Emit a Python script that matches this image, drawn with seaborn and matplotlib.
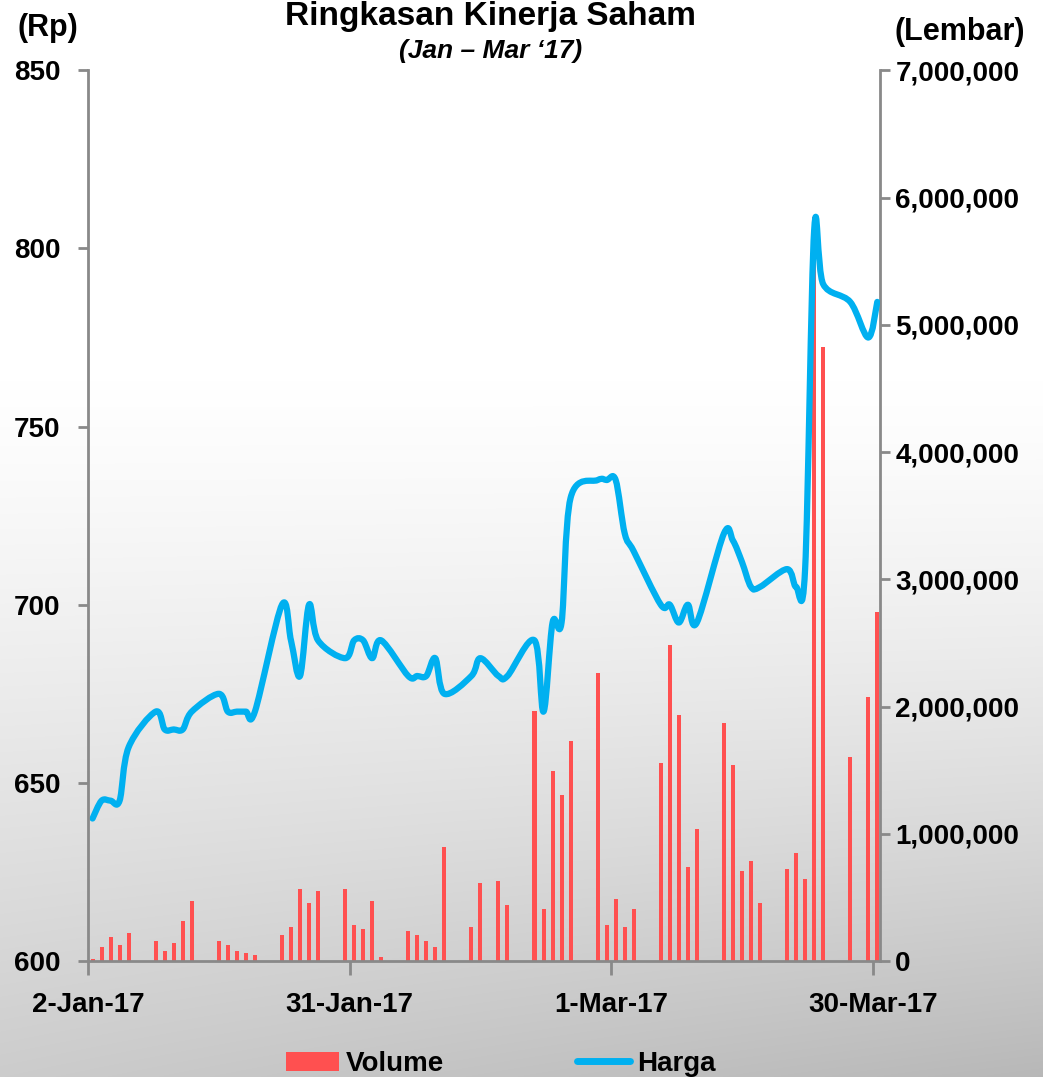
import matplotlib
matplotlib.use('Agg')
import matplotlib.pyplot as plt
import matplotlib.dates as mdates
from matplotlib.path import Path
from matplotlib.patches import PathPatch, Patch
from matplotlib.lines import Line2D
from matplotlib.ticker import FuncFormatter
import numpy as np
import pandas as pd
import seaborn as sns

sns.set_style('ticks')
plt.rcParams['font.family'] = ['Liberation Sans', 'DejaVu Sans']
plt.rcParams['font.weight'] = 'bold'
plt.rcParams['text.color'] = 'black'
plt.rcParams['xtick.labelcolor'] = 'black'
plt.rcParams['ytick.labelcolor'] = 'black'

# hari bursa Jan - Mar 2017
tanggal = [
    '2017-01-02', '2017-01-03', '2017-01-04', '2017-01-05', '2017-01-06',
    '2017-01-09', '2017-01-10', '2017-01-11', '2017-01-12', '2017-01-13',
    '2017-01-16', '2017-01-17', '2017-01-18', '2017-01-19', '2017-01-20',
    '2017-01-23', '2017-01-24', '2017-01-25', '2017-01-26', '2017-01-27',
    '2017-01-30', '2017-01-31', '2017-02-01', '2017-02-02', '2017-02-03',
    '2017-02-06', '2017-02-07', '2017-02-08', '2017-02-09', '2017-02-10',
    '2017-02-13', '2017-02-14', '2017-02-16', '2017-02-17',
    '2017-02-20', '2017-02-21', '2017-02-22', '2017-02-23', '2017-02-24',
    '2017-02-27', '2017-02-28', '2017-03-01', '2017-03-02', '2017-03-03',
    '2017-03-06', '2017-03-07', '2017-03-08', '2017-03-09', '2017-03-10',
    '2017-03-13', '2017-03-14', '2017-03-15', '2017-03-16', '2017-03-17',
    '2017-03-20', '2017-03-21', '2017-03-22', '2017-03-23', '2017-03-24',
    '2017-03-27', '2017-03-29', '2017-03-30',
]
harga = [
    640, 645, 645, 645, 660,
    670, 665, 665, 665, 670,
    675, 670, 670, 670, 670,
    700, 690, 680, 700, 690,
    685, 690, 690, 685, 690,
    680, 680, 680, 685, 675,
    680, 685, 680, 680,
    690, 670, 695, 695, 730,
    735, 735, 735, 720, 715,
    700, 700, 695, 700, 695,
    720, 718, 712, 705, 705,
    710, 705, 710, 805, 790,
    785, 775, 785,
]
volume = [
    18000, 110000, 189000, 126000, 220000,
    157000, 79000, 141000, 314000, 471000,
    157000, 126000, 79000, 63000, 47000,
    204000, 267000, 566000, 456000, 550000,
    566000, 283000, 251000, 471000, 31000,
    236000, 204000, 157000, 110000, 896000,
    267000, 613000, 628000, 440000,
    1964000, 408000, 1492000, 1304000, 1728000,
    2262000, 283000, 487000, 267000, 408000,
    1555000, 2482000, 1932000, 738000, 1037000,
    1870000, 1540000, 707000, 786000, 456000,
    723000, 848000, 644000, 5845000, 4825000,
    1602000, 2074000, 2742000,
]
x_tick_dates = ['2017-01-02', '2017-01-31', '2017-03-01', '2017-03-30']
x_tick_labels = ['2-Jan-17', '31-Jan-17', '1-Mar-17', '30-Mar-17']
harga_ticks = [600, 650, 700, 750, 800, 850]
volume_ticks = [0, 1000000, 2000000, 3000000, 4000000, 5000000, 6000000, 7000000]

MERAH = '#FF5050'
BIRU = '#00B0F0'
ABU = '#898989'

df = pd.DataFrame({'tanggal': pd.to_datetime(tanggal), 'harga': harga, 'volume': volume})
# titik data di tengah hari (seperti sumbu tanggal Excel)
df['x'] = mdates.date2num(df['tanggal']) + 0.5
tick_x = mdates.date2num(pd.to_datetime(x_tick_dates))

fig = plt.figure(figsize=(10.43, 10.77), dpi=100)

# latar gradasi putih -> abu-abu
H, W = 1077, 1043
yy, xx = np.mgrid[0:H, 0:W]
t = np.clip((yy - 380) / (H - 380), 0, 1)
g = 1 - 0.2 * t ** 1.2 - 0.08 * t ** 2 * (xx / W)
bg = fig.add_axes([0, 0, 1, 1])
bg.imshow(np.dstack([g, g, g]), aspect='auto')
bg.axis('off')

ax = fig.add_axes([0.0844, 0.1077, 0.7593, 0.827])
ax2 = ax.twinx()

# volume (batang) di sumbu kanan
sns.barplot(data=df, x='x', y='volume', native_scale=True, color=MERAH,
            saturation=1, width=0.45, errorbar=None, linewidth=0, ax=ax2)

# harga: garis halus (kurva bezier lewat tiap titik, gaya smoothed line Excel)
pts = df[['x', 'harga']].to_numpy(dtype=float)
n = len(pts)
verts = [pts[0]]
codes = [Path.MOVETO]
for i in range(n - 1):
    p0 = pts[max(i - 1, 0)]
    p1 = pts[i]
    p2 = pts[i + 1]
    p3 = pts[min(i + 2, n - 1)]
    verts += [p1 + (p2 - p0) / 6, p2 - (p3 - p1) / 6, p2]
    codes += [Path.CURVE4] * 3
ax.add_patch(PathPatch(Path(verts, codes), fill=False, edgecolor=BIRU, lw=4.5,
                       capstyle='round', joinstyle='round'))

ax.set_zorder(ax2.get_zorder() + 1)
ax.patch.set_visible(False)
ax2.patch.set_visible(False)

ax.set_xlim(tick_x[0], tick_x[-1] + 0.8)
ax.set_ylim(600, 850)
ax2.set_ylim(0, 7000000)
ax.set_xticks(tick_x)
ax.set_xticklabels(x_tick_labels)
ax.set_yticks(harga_ticks)
ax2.set_yticks(volume_ticks)
ax2.yaxis.set_major_formatter(FuncFormatter(lambda v, p: f'{v:,.0f}'))
ax.set_xlabel('')
ax.set_ylabel('')
ax2.set_xlabel('')
ax2.set_ylabel('')

for s in ['top', 'right']:
    ax.spines[s].set_visible(False)
for s in ['top', 'left', 'bottom']:
    ax2.spines[s].set_visible(False)
for s in [ax.spines['left'], ax.spines['bottom'], ax2.spines['right']]:
    s.set_color(ABU)
    s.set_linewidth(2)

ax.tick_params(axis='y', length=7, width=2, color=ABU, pad=13, labelsize=20)
ax.tick_params(axis='x', length=10, width=2, color=ABU, pad=12, labelsize=20)
ax2.tick_params(axis='y', length=7, width=2, color=ABU, pad=4, labelsize=20)

fig.text(0.47, 1 - 25 / 1077, 'Ringkasan Kinerja Saham', ha='center', va='baseline',
         fontsize=24, fontweight='bold')
fig.text(0.47, 1 - 51 / 1077, '(Jan \u2013 Mar \u201817)', ha='center', va='center',
         fontsize=19, fontweight='bold', style='italic')
fig.text(48 / 1043, 1 - 28 / 1077, '(Rp)', ha='center', va='center', fontsize=22, fontweight='bold')
fig.text(960 / 1043, 1 - 32 / 1077, '(Lembar)', ha='center', va='center', fontsize=22, fontweight='bold')

handles = [Patch(facecolor=MERAH, edgecolor='none', label='Volume'),
           Line2D([], [], color=BIRU, lw=5, solid_capstyle='round', label='Harga')]
fig.legend(handles=handles, loc='center', bbox_to_anchor=(0.48, 1 - 1064 / 1077), ncol=2,
           frameon=False, fontsize=20, handlelength=1.9, handletextpad=0.25, columnspacing=4.8)

fig.savefig('out.png', dpi=100)
